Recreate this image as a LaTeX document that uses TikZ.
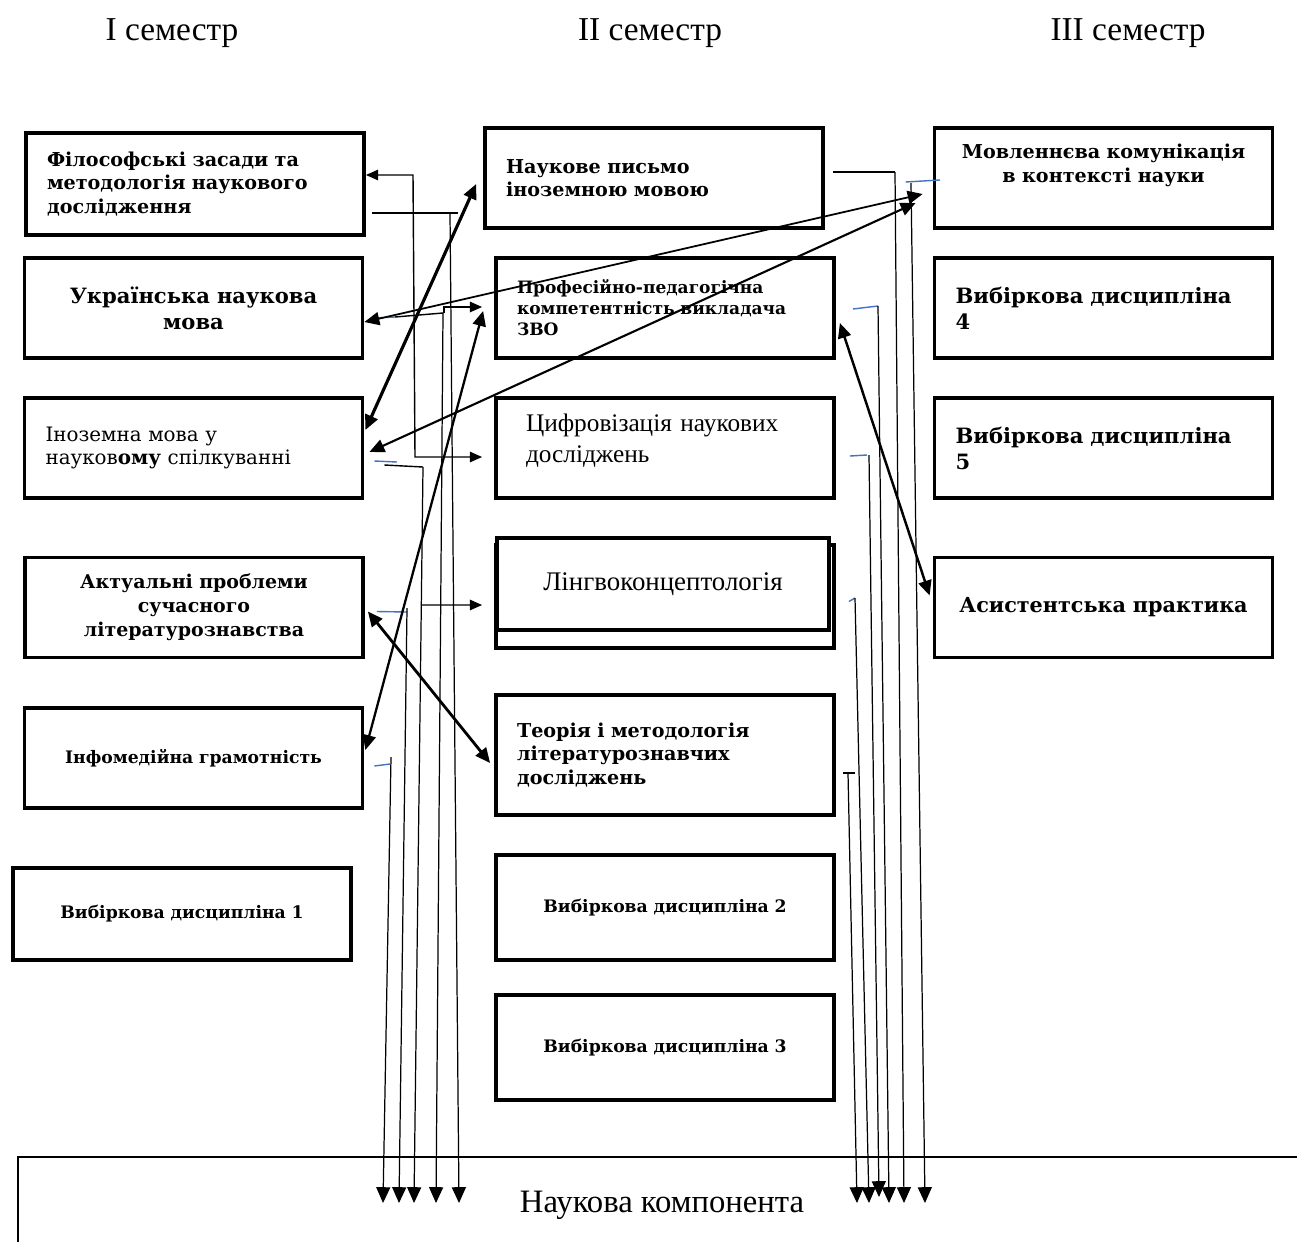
\documentclass[tikz,border=0pt]{standalone}
\usepackage{fontspec}
\setmainfont{Liberation Serif}
\newfontfamily\boxfont{DejaVu Serif}
\usetikzlibrary{arrows.meta,calc}

\newcommand{\bfs}[2]{\boxfont\bfseries\fontsize{#1}{#2}\selectfont}
\newcommand{\rms}[2]{\rmfamily\fontsize{#1}{#2}\selectfont}

\begin{document}
\begin{tikzpicture}[x=0.02cm, y=-0.02cm,
    box/.style={draw=black, line width=2.2pt, fill=white,
        minimum width=6.76cm, minimum height=2cm,
        inner xsep=0.42cm, inner ysep=0pt},
    lbox/.style={box, text width=5.92cm, align=left},
    cbox/.style={box, text width=5.92cm, align=center},
    head/.style={font=\rms{19}{22}},
    conn/.style={line width=0.8pt, -{Triangle[length=7pt, width=6pt]}},
    link/.style={line width=1.3pt, {Triangle[length=8.5pt, width=7.5pt]}-{Triangle[length=8.5pt, width=7.5pt]}},
    down/.style={line width=0.7pt, -{Triangle[length=9pt, width=8pt]}},
    tick/.style={line width=0.8pt},
    btick/.style={line width=0.8pt, draw={rgb,255:red,68;green,114;blue,196}}
]
    \useasboundingbox (0,0) rectangle (1297,1241);

    % semesters
    \node[head] (s1) at (172,33) {I семестр};
    \node[head] (s2) at (650,33) {II семестр};
    \node[head] (s3) at (1128,33) {III семестр};

    % first column
    \node[lbox, font=\bfs{10.9}{13.6}, minimum height=2.04cm] (A1) at (195,184)
        {Філософські засади та\\методологія наукового\\дослідження};
    \node[cbox, font=\bfs{12}{14.8}] (A2) at (193.5,308) {Українська наукова\\мова};
    \node[lbox, font=\rms{11.3}{13.6}\boxfont] (A3) at (193.5,448)
        {Іноземна мова у\\науков\textbf{ому} спілкуванні};
    \node[cbox, font=\bfs{10.8}{13.6}] (A4) at (194,607.5)
        {Актуальні проблеми\\сучасного\\літературознавства};
    \node[cbox, font=\bfs{9.8}{12}] (A5) at (193.5,758) {Інфомедійна грамотність};
    \node[cbox, font=\bfs{9.8}{12}, minimum height=1.84cm] (A6) at (182,914)
        {Вибіркова дисципліна 1};

    % second column
    \node[lbox, font=\bfs{10.9}{13}] (B1) at (654,178) {Наукове письмо\\іноземною мовою};
    \node[lbox, font=\bfs{9.7}{11.9}] (B2) at (665,308)
        {Професійно-педагогічна\\компетентність викладача\\ЗВО};
    \node[lbox, font=\rms{14.4}{18}, inner xsep=0.6cm, text width=5.56cm] (B3) at (665,448)
        {Цифровізація наукових\\досліджень\\[-7pt]\mbox{}};
    \node[box, minimum height=2.06cm] (B4) at (665,596.5) {};
    \node[cbox, font=\rms{15.3}{17}, minimum width=6.64cm, text width=5.8cm,
        minimum height=1.84cm] (B4f) at (663,584) {Лінгвоконцептологія};
    \node[lbox, font=\bfs{10.9}{13.3}, minimum height=2.4cm] (B5) at (665,755)
        {Теорія і методологія\\літературознавчих\\досліджень};
    \node[cbox, font=\bfs{9.8}{12}, minimum height=2.1cm] (B6) at (665,907.5)
        {Вибіркова дисципліна 2};
    \node[cbox, font=\bfs{9.8}{12}, minimum height=2.1cm] (B7) at (665,1047.5)
        {Вибіркова дисципліна 3};

    % third column
    \node[cbox, font=\bfs{10.9}{13.6}] (C1) at (1103.5,178)
        {Мовленнєва комунікація\\в контексті науки\\[3pt]\mbox{}};
    \node[lbox, font=\bfs{12}{14.8}] (C2) at (1103.5,308) {Вибіркова дисципліна\\4};
    \node[lbox, font=\bfs{12}{14.8}] (C3) at (1103.5,448) {Вибіркова дисципліна\\5};
    \node[cbox, font=\bfs{11.8}{14}] (C4) at (1103.5,607.5) {Асистентська практика};

    % scientific component
    \draw[line width=1.2pt] (18,1260) -- (18,1157) -- (1310,1157);
    \node[font=\rms{18.6}{22}] (nk) at (662,1205) {Наукова компонента};

    \coordinate (l1) at (383,1203);
    \coordinate (l2) at (399,1203);
    \coordinate (l3) at (414,1203);
    \coordinate (l4) at (436,1203);
    \coordinate (l5) at (459,1203);
    \coordinate (r1) at (857,1203);
    \coordinate (r2) at (869,1203);
    \coordinate (r3) at (879,1197);
    \coordinate (r4) at (889,1203);
    \coordinate (r5) at (904,1203);
    \coordinate (r6) at (925,1203);

    % lines from the first column
    \draw[tick] ($(A1.east)+(6,29)$) -- (458,213);
    \draw[down] (450,213) -- (l5);
    \draw[btick] ($(A2.east)+(10,10)$) -- (395,317);
    \draw[tick] (395,317) -- (443,313);
    \draw[down] (443,313) -- (l4);
    \draw[conn] (444,313) -- (444,307) -- ($(B2.west)+(-12,-1)$);
    \draw[btick] ($(A3.east)+(10,13)$) -- (397,462);
    \draw[tick] ($(A3.east)+(20,17)$) -- (423,467);
    \draw[down] (423,467) -- (l3);
    \draw[conn] (422,605) -- ($(B4.west)+(-12,8.5)$);
    \draw[btick] ($(A4.east)+(12,4)$) -- (407,612);
    \draw[down] (407,608) -- (l2);
    \draw[btick] ($(A5.east)+(10,8)$) -- (390,764);
    \draw[down] (391,757) -- (l1);
    \draw[conn, {Triangle[length=7pt, width=6pt]}-{Triangle[length=7pt, width=6pt]}]
        ($(A1.east)+(0,-9)$) -- (413,175) -- (415,457) -- ($(B3.west)+(-12,9)$);

    % lines from the second and third column
    \draw[tick] ($(B1.east)+(8,-6)$) -- (895,172);
    \draw[down] (895,172) -- (r5);
    \draw[btick] ($(C1.west)+(-27,4)$) -- (940,180);
    \draw[down] (911,183) -- (r6);
    \draw[btick] ($(B2.east)+(17,1)$) -- (878,306);
    \draw[down] (878,306) -- (r4);
    \draw[btick] ($(B3.east)+(14,8)$) -- (867,455);
    \draw[down] (869,455) -- (r3);
    \draw[btick] ($(B4.east)+(13,5)$) -- (855,598);
    \draw[down] (855,598) -- (r2);
    \draw[tick] ($(B5.east)+(7,18)$) -- (855,773);
    \draw[down] (848,773) -- (r1);

    % links between courses
    \draw[link, line width=1.8pt] ($(A3.east)+(1,-18)$) -- ($(B1.west)+(-7,6)$);
    \draw[link, line width=1pt] ($(A2.east)+(0,14)$) -- ($(C1.west)+(-10,16)$);
    \draw[link, line width=1.2pt] ($(A3.east)+(5,4)$) -- ($(C1.west)+(-17,25)$);
    \draw[link] ($(A5.east)+(1,-8)$) -- ($(B2.west)+(-11,3)$);
    \draw[link, line width=1.6pt] ($(A4.east)+(3,4)$) -- ($(B5.west)+(-4,8)$);
    \draw[link, line width=1.4pt] ($(B2.east)+(4,15)$) -- ($(C4.west)+(-3,-12)$);
\end{tikzpicture}
\end{document}
